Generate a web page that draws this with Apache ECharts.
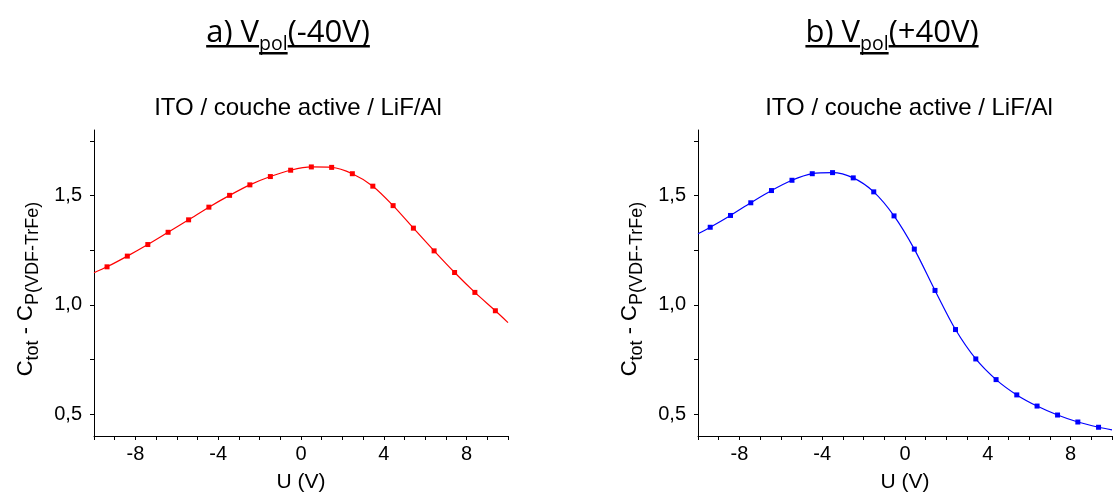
<!DOCTYPE html>
<html><head><meta charset="utf-8">
<script src="https://cdn.jsdelivr.net/npm/echarts@6/dist/echarts.min.js"></script>
<style>html,body{margin:0;padding:0;background:#fff}#c{width:1114px;height:495px}</style>
</head><body><div id="c"></div>
<script>
// ---- data ----
const uRed = [-9.37,-8.39,-7.40,-6.42,-5.43,-4.45,-3.45,-2.47,-1.48,-0.50,0.50,1.48,2.48,3.47,4.45,5.43,6.43,7.42,8.40,9.39];
const cRed = [1.174,1.223,1.276,1.332,1.389,1.447,1.501,1.549,1.587,1.616,1.631,1.629,1.600,1.543,1.454,1.351,1.247,1.148,1.057,0.973];
const redEnds = [[-10,1.147],[10,0.919]];
const uBlue = [-9.41,-8.43,-7.45,-6.45,-5.46,-4.48,-3.50,-2.50,-1.51,-0.53,0.45,1.45,2.44,3.42,4.40,5.40,6.38,7.37,8.35,9.35];
const cBlue = [1.355,1.409,1.467,1.523,1.570,1.600,1.605,1.581,1.517,1.407,1.255,1.066,0.887,0.7525,0.658,0.588,0.537,0.496,0.464,0.440];
const blueEnds = [[-10,1.325],[10,0.428]];
const xTicks = [-10,-9,-8,-7,-6,-5,-4,-3,-2,-1,0,1,2,3,4,5,6,7,8,9,10];
const xLabels = [-8,-4,0,4,8];
const yTicks = [0.5,0.75,1.0,1.25,1.5,1.75];
const yLabels = [0.5,1.0,1.5];
const panelTitle = 'ITO / couche active / LiF/Al';
const headers = [['a) V','pol','(-40V)'],['b) V','pol','(+40V)']];
const xName = 'U (V)';

// ---- build ----
const chart = echarts.init(document.getElementById('c'), null, {renderer:'canvas'});
const SANS = '"Liberation Sans", Arial, sans-serif';
const HFONT = '"Open Sans", sans-serif';
const grids = [
  {left:94, top:130, width:414, height:306, containLabel:false, outerBoundsMode:'none'},
  {left:698, top:130, width:414, height:306, containLabel:false, outerBoundsMode:'none'}];

function build(us, cs, ends){
  const d = [{value:ends[0], symbol:'none'}];
  us.forEach((u,i)=>d.push([u, cs[i]]));
  d.push({value:ends[1], symbol:'none'});
  return d;
}
function xAxis(i){
  return {type:'value', gridIndex:i, min:-10, max:10, interval:1,
    name:xName, nameLocation:'middle', nameGap:36,
    nameTextStyle:{fontFamily:SANS, fontSize:21, color:'#000'},
    axisLine:{onZero:false, lineStyle:{color:'#000', width:1}},
    axisTick:{inside:false, length:4, lineStyle:{color:'#000'}, customValues:xTicks},
    axisLabel:{customValues:xLabels, fontFamily:SANS, fontSize:20, color:'#000', margin:8},
    splitLine:{show:false}};
}
function yAxis(i){
  return {type:'value', gridIndex:i, min:0.4, max:1.8,
    name:'{c|C}{s|tot}{c| - C}{e|P(VDF-TrFe)}', nameLocation:'middle', nameRotate:90, nameGap:52,
    nameTextStyle:{color:'#000', fontFamily:SANS, rich:{
      c:{fontFamily:SANS, fontSize:22, color:'#000'},
      s:{fontFamily:SANS, fontSize:18, color:'#000', padding:[14,0,0,0]},
      e:{fontFamily:SANS, fontSize:18, color:'#000', padding:[14,12,0,0]}}},
    axisLine:{show:true, onZero:false, lineStyle:{color:'#000', width:1}},
    axisTick:{show:true, inside:false, length:4, lineStyle:{color:'#000'}, customValues:yTicks},
    axisLabel:{customValues:yLabels, fontFamily:SANS, fontSize:20, color:'#000', margin:12,
      formatter:v=>v.toFixed(1).replace('.', ',')},
    splitLine:{show:false}};
}
function series(i, data, color){
  return {type:'line', xAxisIndex:i, yAxisIndex:i, data:data, smooth:0.3,
    symbol:'rect', symbolSize:5, showSymbol:true, clip:true,
    lineStyle:{color:color, width:1.2}, itemStyle:{color:color}};
}

// header text layout
const cv = document.createElement('canvas').getContext('2d');
function tw(t, f){ cv.font = f; return cv.measureText(t).width; }
const graphics = [];
const headerCenters = [288, 892];
const MS = 31, SS = 19.5;
headers.forEach((h,k)=>{
  const fm = MS + 'px ' + HFONT, fs = SS + 'px ' + HFONT;
  const w1 = tw(h[0], fm), w2 = tw(h[1], fs), w3 = tw(h[2], fm);
  const x0 = headerCenters[k] - (w1+w2+w3)/2;
  graphics.push({type:'text', x:x0, y:33, style:{text:h[0], fontFamily:HFONT, fontSize:MS, fill:'#000', align:'left', verticalAlign:'middle'}});
  graphics.push({type:'text', x:x0+w1, y:44.5, style:{text:h[1], fontFamily:HFONT, fontSize:SS, fill:'#000', align:'left', verticalAlign:'middle'}});
  graphics.push({type:'text', x:x0+w1+w2, y:33, style:{text:h[2], fontFamily:HFONT, fontSize:MS, fill:'#000', align:'left', verticalAlign:'middle'}});
  graphics.push({type:'rect', shape:{x:x0, y:45, width:w1, height:2.5}, style:{fill:'#000'}});
  graphics.push({type:'rect', shape:{x:x0+w1, y:52, width:w2, height:2.5}, style:{fill:'#000'}});
  graphics.push({type:'rect', shape:{x:x0+w1+w2, y:45, width:w3, height:2.5}, style:{fill:'#000'}});
});
[298, 909].forEach(cx=>{
  graphics.push({type:'text', x:cx, y:108, style:{text:panelTitle, fontFamily:SANS, fontSize:24, fill:'#000', align:'center', verticalAlign:'middle'}});
});

chart.setOption({
  animation:false,
  backgroundColor:'#fff',
  grid:grids,
  xAxis:[xAxis(0), xAxis(1)],
  yAxis:[yAxis(0), yAxis(1)],
  series:[series(0, build(uRed,cRed,redEnds), '#FF0000'), series(1, build(uBlue,cBlue,blueEnds), '#0000FF')],
  graphic:graphics
});
</script></body></html>
